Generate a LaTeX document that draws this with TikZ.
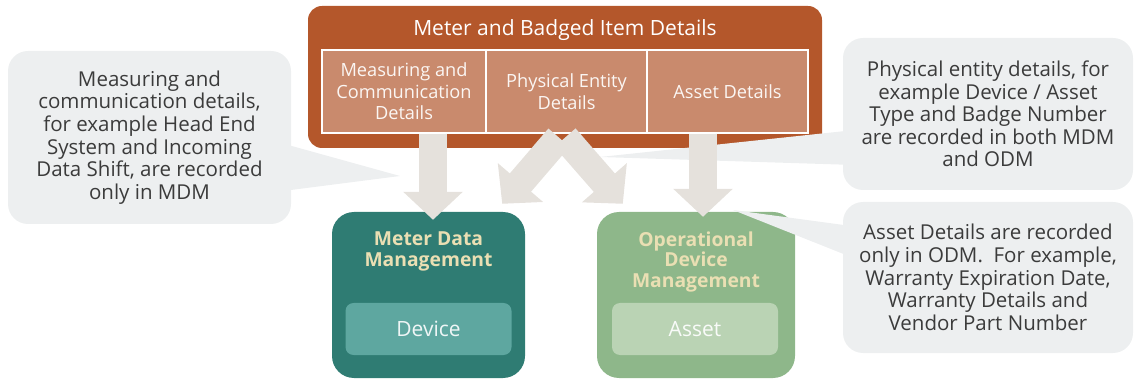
\documentclass[tikz,border=0pt]{standalone}
\usepackage{fontspec}
\setmainfont{Open Sans}
\usetikzlibrary{arrows.meta}
\definecolor{badgedorange}{HTML}{B4572B}
\definecolor{cellorange}{HTML}{C98A6D}
\definecolor{mdmteal}{HTML}{2F7C73}
\definecolor{mdmcell}{HTML}{5EA7A0}
\definecolor{odmgreen}{HTML}{8EB78A}
\definecolor{odmcell}{HTML}{BAD3B4}
\definecolor{apptitle}{HTML}{EADFB3}
\definecolor{notegray}{HTML}{EDEFF0}
\definecolor{notetext}{HTML}{3B3B3B}
\definecolor{flowgray}{HTML}{E5E1DC}
\tikzset{
  badged/.style   = {rectangle, rounded corners=14pt, fill=badgedorange,
          minimum width=514pt, minimum height=142pt},
  cell/.style     = {rectangle, draw=white, line width=1.3pt, fill=cellorange,
          text=white!92!cellorange, align=center, minimum height=83pt,
          font=\fontsize{18.2}{21.5}\selectfont},
  note/.style     = {rectangle, rounded corners=20pt, fill=notegray,
          text=notetext, align=center, inner sep=0pt,
          font=\fontsize{20.5}{22.6}\selectfont},
  notetail/.style = {fill=notegray},
  app/.style      = {rectangle, rounded corners=22pt, minimum height=166pt},
  apptitle/.style = {anchor=north, text=apptitle, align=center,
          font=\bfseries\fontsize{19.3}{20.8}\selectfont},
  appcell/.style  = {rectangle, rounded corners=8pt, minimum width=166pt,
          minimum height=52pt, font=\fontsize{21}{24}\selectfont},
  flow/.style     = {draw=flowgray, line width=28pt,
          -{Triangle[length=28pt,width=58pt]}}
}
\begin{document}
\begin{tikzpicture}[x=1pt, y=-1pt]
  \useasboundingbox (0,0) rectangle (1135,379);

  \node [badged] (badged) at (565,77) {};
  \node [text=white, font=\fontsize{21}{24}\selectfont] (badgedtitle) at (565,30)
    {Meter and Badged Item Details};
  \node [cell, minimum width=164pt] (mcd) at (404,91.5)
    {Measuring and\\Communication\\Details};
  \node [cell, minimum width=161pt] (ped) at (566.5,91.5)
    {Physical Entity\\Details};
  \node [cell, minimum width=161pt] (ad) at (727.5,91.5)
    {Asset Details};

  \node [app, fill=mdmteal, minimum width=193pt] (mdm) at (428.5,295) {};
  \node [apptitle] (mdmtitle) at (428.5,228) {Meter Data\\Management};
  \node [appcell, fill=mdmcell, text=white!90!mdmcell] (device) at (428.5,329) {Device};
  \node [app, fill=odmgreen, minimum width=198pt] (odm) at (696,295) {};
  \node [apptitle] (odmtitle) at (696,228) {Operational\\Device\\Management};
  \node [appcell, fill=odmcell, text=white!92!odmcell] (asset) at (695,329) {Asset};

  \node [note, minimum width=283pt, minimum height=173pt] (mcdnote) at (149.5,137.5)
    {Measuring and\\communication details,\\for example Head End\\System and Incoming\\Data Shift, are recorded\\only in MDM};
  \node [note, minimum width=290pt, minimum height=152pt] (pednote) at (988,114)
    {Physical entity details, for\\example Device / Asset\\Type and Badge Number\\are recorded in both MDM\\and ODM};
  \node [note, minimum width=290pt, minimum height=151pt] (adnote) at (988,277.5)
    {Asset Details are recorded\\only in ODM.\ \ For example,\\Warranty Expiration Date,\\Warranty Details and\\Vendor Part Number};

  \coordinate (mcdtip) at (400,176);
  \coordinate (pedtip) at (600,157);
  \coordinate (adtip) at (733,210);
  \fill [notetail] ([shift={(-12pt,-5pt)}]mcdnote.east) -- (mcdtip)
    -- ([shift={(-12pt,-54pt)}]mcdnote.east) -- cycle;
  \fill [notetail] ([shift={(12pt,-16pt)}]pednote.west) -- (pedtip)
    -- ([shift={(12pt,-51pt)}]pednote.west) -- cycle;
  \fill [notetail] ([shift={(12pt,51pt)}]adnote.west) -- (adtip)
    -- ([shift={(12pt,19pt)}]adnote.west) -- cycle;

  \coordinate (mdmin) at ([shift={(4.5pt,-8pt)}]mdm.north);
  \coordinate (odmin) at ([shift={(7pt,-5pt)}]odm.north);
  \coordinate (pedleft) at ([shift={(-7.5pt,-4pt)}]ped.south);
  \coordinate (pedright) at ([shift={(-1.5pt,-4pt)}]ped.south);
  \coordinate (mdmside) at ([shift={(-23pt,8pt)}]mdm.north east);
  \coordinate (odmside) at ([shift={(26pt,8pt)}]odm.north west);
  \draw [flow] (mdmin |- mcd.south) -- (mdmin);
  \draw [flow] (odmin |- ad.south) -- (odmin);
  \draw [flow] (pedleft) -- (mdmside);
  \draw [flow] (pedright) -- (odmside);
\end{tikzpicture}
\end{document}
